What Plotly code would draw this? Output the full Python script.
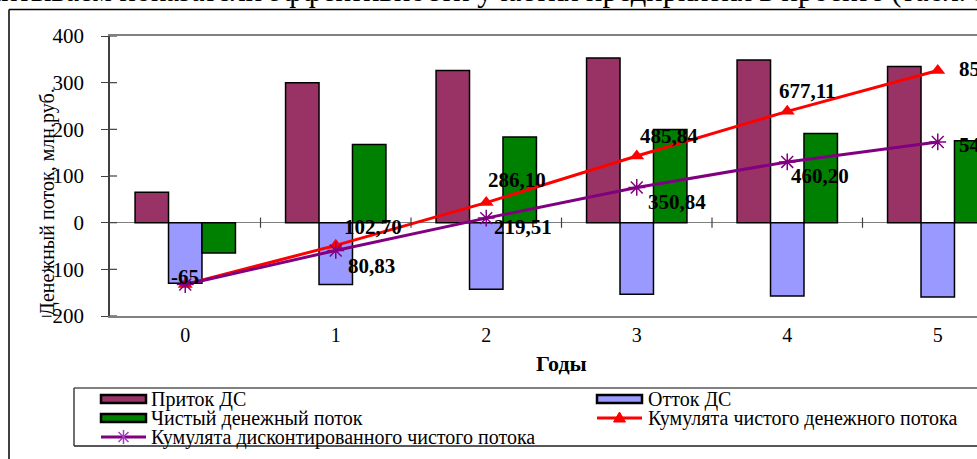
import plotly.graph_objects as go

# ---- data -------------------------------------------------------------
years = ["0", "1", "2", "3", "4", "5"]
inflow = [65, 300, 326, 353, 348.5, 334.5]                    # Приток ДС
outflow = [-130, -132.3, -142.6, -153.26, -157.23, -159.21]   # Отток ДС
net_flow = [-65, 167.70, 183.40, 199.74, 191.27, 175.29]      # Чистый денежный поток
cum_net = [-65, 102.70, 286.10, 485.84, 677.11, 852.40]       # Кумулята чистого денежного потока
cum_disc = [-65, 80.83, 219.51, 350.84, 460.20, 545.90]       # Кумулята дисконтированного чистого потока

y_ticks = [-200, -100, 0, 100, 200, 300, 400]

# ---- layout geometry (pixels) ----------------------------------------
W, H = 977, 459
ML, MR, MT, MB = 110, 0, 36, 143
PW, PH = W - ML - MR, H - MT - MB
CAT_PX = 150.5                      # width of one year on the category axis

def px_x(px):
    return (px - ML) / PW

def px_y(py):
    return (H - MB - py) / PH

SERIF = "Liberation Serif, Times New Roman, DejaVu Serif, serif"
C_IN, C_OUT, C_NET = "#993366", "#9999FF", "#008000"
C_CUM, C_DISC, C_DISC_MK = "#FF0000", "#800080", "#A040C0"

x_idx = list(range(len(years)))

fig = go.Figure()
fig.add_bar(x=x_idx, y=inflow, name="Приток ДС",
            marker=dict(color=C_IN, line=dict(color="black", width=1.5)))
fig.add_bar(x=x_idx, y=outflow, name="Отток ДС",
            marker=dict(color=C_OUT, line=dict(color="black", width=1.5)))
fig.add_bar(x=x_idx, y=net_flow, name="Чистый денежный поток",
            marker=dict(color=C_NET, line=dict(color="black", width=1.5)))
fig.add_scatter(x=x_idx, y=cum_net, yaxis="y2", mode="lines+markers",
                name="Кумулята чистого денежного потока",
                line=dict(color=C_CUM, width=3),
                marker=dict(symbol="triangle-up", size=13, color=C_CUM))
fig.add_scatter(x=x_idx, y=cum_disc, yaxis="y2", mode="lines+markers",
                name="Кумулята дисконтированного чистого потока",
                line=dict(color=C_DISC, width=3),
                marker=dict(symbol="asterisk-open", size=14,
                            line=dict(color=C_DISC_MK, width=1.5)))

def fmt(v):
    if float(v).is_integer():
        return f"{int(v)}"
    return f"{v:.2f}".replace(".", ",")

annotations = []
shapes = []

# value labels for the two cumulative lines (pixel offsets: left edge, centre)
cum_offsets = [(0, -8, "center"), (6, -18, "left"), (0, -23, "left"),
               (1, -20, "left"), (-10, -20, "left"), (19, -1, "left")]
disc_offsets = [None, (10, 16, "left"), (6, 9, "left"), (9, 15, "left"),
                (2, 14, "left"), (19, 3, "left")]
label_font = dict(family=SERIF, size=21, color="black", weight="bold")
for series, offs in ((cum_net, cum_offsets), (cum_disc, disc_offsets)):
    for i, v in enumerate(series):
        if offs[i] is None:
            continue
        dx, dy, anchor = offs[i]
        annotations.append(dict(x=i, y=v, xref="x", yref="y2", text=fmt(v),
                                showarrow=False, xanchor=anchor, yanchor="middle",
                                xshift=dx, yshift=-dy, font=label_font))

# crossing tick marks on the zero line between years
for i in range(len(years) - 1):
    shapes.append(dict(type="line", xref="x", yref="y", x0=i + 0.5, x1=i + 0.5,
                       y0=-11, y1=11, line=dict(color="#404040", width=1.2)))
# inner halves of the value-axis ticks
for t in y_ticks:
    shapes.append(dict(type="line", xref="paper", yref="y", x0=0, x1=7 / PW,
                       y0=t, y1=t, line=dict(color="#404040", width=1.2)))

# outer chart frame (left and top edges)
shapes.append(dict(type="line", xref="paper", yref="paper", x0=px_x(9), x1=px_x(W + 5),
                   y0=px_y(9.5), y1=px_y(9.5), line=dict(color="black", width=1.5)))
shapes.append(dict(type="line", xref="paper", yref="paper", x0=px_x(9), x1=px_x(9),
                   y0=px_y(9.5), y1=px_y(H + 5), line=dict(color="black", width=1.5)))

# legend box
LB_L, LB_T, LB_B = 74, 388, 446
shapes.append(dict(type="line", xref="paper", yref="paper", x0=px_x(LB_L), x1=px_x(W + 5),
                   y0=px_y(LB_T), y1=px_y(LB_T), line=dict(color="#808080", width=2)))
shapes.append(dict(type="line", xref="paper", yref="paper", x0=px_x(LB_L), x1=px_x(W + 5),
                   y0=px_y(LB_B), y1=px_y(LB_B), line=dict(color="#202020", width=1.5)))
shapes.append(dict(type="line", xref="paper", yref="paper", x0=px_x(LB_L), x1=px_x(LB_L),
                   y0=px_y(LB_T), y1=px_y(LB_B), line=dict(color="#404040", width=1.5)))

legend_font = dict(family=SERIF, size=20, color="black")
col_sw = [101, 597]
col_tx = [149, 646]
rows = [399, 418, 437]
legend_items = [
    ("bar", C_IN, "Приток ДС", 0, 0),
    ("bar", C_OUT, "Отток ДС", 1, 0),
    ("bar", C_NET, "Чистый денежный поток", 0, 1),
    ("tri", C_CUM, "Кумулята чистого денежного потока", 1, 1),
    ("ast", C_DISC, "Кумулята дисконтированного чистого потока", 0, 2),
]
for kind, color, label, col, row in legend_items:
    x0, x1 = col_sw[col], col_sw[col] + 45
    yc = rows[row]
    if kind == "bar":
        shapes.append(dict(type="rect", xref="paper", yref="paper",
                           x0=px_x(x0), x1=px_x(x1), y0=px_y(yc - 4), y1=px_y(yc + 4),
                           fillcolor=color, line=dict(color="black", width=2.5)))
    else:
        shapes.append(dict(type="line", xref="paper", yref="paper",
                           x0=px_x(x0), x1=px_x(x1), y0=px_y(yc), y1=px_y(yc),
                           line=dict(color=color, width=3)))
        xc = (x0 + x1) / 2
        if kind == "tri":
            path = (f"M{px_x(xc - 6)},{px_y(yc + 4)} L{px_x(xc + 6)},{px_y(yc + 4)} "
                    f"L{px_x(xc)},{px_y(yc - 6)} Z")
            shapes.append(dict(type="path", xref="paper", yref="paper", path=path,
                               fillcolor=color, line=dict(color=color, width=1)))
        else:
            path = (f"M{px_x(xc)},{px_y(yc - 7)} L{px_x(xc)},{px_y(yc + 7)} "
                    f"M{px_x(xc - 5)},{px_y(yc - 5)} L{px_x(xc + 5)},{px_y(yc + 5)} "
                    f"M{px_x(xc - 5)},{px_y(yc + 5)} L{px_x(xc + 5)},{px_y(yc - 5)}")
            shapes.append(dict(type="path", xref="paper", yref="paper", path=path,
                               line=dict(color=C_DISC_MK, width=1.5)))
    annotations.append(dict(x=px_x(col_tx[col]), y=px_y(yc), xref="paper", yref="paper",
                            text=label, showarrow=False, xanchor="left", yanchor="middle",
                            font=legend_font))

# axis titles
annotations.append(dict(x=px_x(47), y=px_y(202), xref="paper", yref="paper",
                        text="Денежный поток, млн.руб.", textangle=-90, showarrow=False,
                        xanchor="center", yanchor="middle",
                        font=dict(family=SERIF, size=20, color="black")))
annotations.append(dict(x=2.5, y=px_y(363), xref="x", yref="paper", text="Годы",
                        showarrow=False, xanchor="center", yanchor="middle",
                        font=dict(family=SERIF, size=22, color="black", weight="bold")))

# running text of the page above the chart
annotations.append(dict(x=px_x(-73), y=px_y(10), xref="paper", yref="paper",
                        text="Рассчитываем показатели эффективности участия предприятия в проекте (табл. 3.2)",
                        showarrow=False, xanchor="left", yanchor="bottom",
                        font=dict(family=SERIF, size=30.5, color="black")))

x_hi = -0.5 + PW / CAT_PX

fig.update_layout(
    width=W, height=H,
    margin=dict(l=ML, r=MR, t=MT, b=MB, pad=0),
    paper_bgcolor="white", plot_bgcolor="white",
    barmode="group", bargap=0.333, bargroupgap=0,
    showlegend=False,
    xaxis=dict(range=[-0.5, x_hi], tickmode="array", tickvals=x_idx, ticktext=years,
               ticks="", showline=True, linecolor="#808080", linewidth=2, mirror=True,
               showgrid=False, zeroline=False, automargin=False,
               tickfont=dict(family=SERIF, size=20, color="black")),
    yaxis=dict(range=[-200, 400], tickmode="array", tickvals=y_ticks,
               ticks="outside", ticklen=7, tickcolor="#404040", tickwidth=1.2,
               ticklabelstandoff=13,
               showline=True, linecolor="#404040", linewidth=1.5,
               showgrid=False, zeroline=True, zerolinecolor="#808080", zerolinewidth=1,
               automargin=False,
               tickfont=dict(family=SERIF, size=21, color="black")),
    yaxis2=dict(range=[-200, 1000], overlaying="y", side="right", visible=False,
                showgrid=False, zeroline=False),
    annotations=annotations,
    shapes=shapes,
)

fig.write_html("out.html")
